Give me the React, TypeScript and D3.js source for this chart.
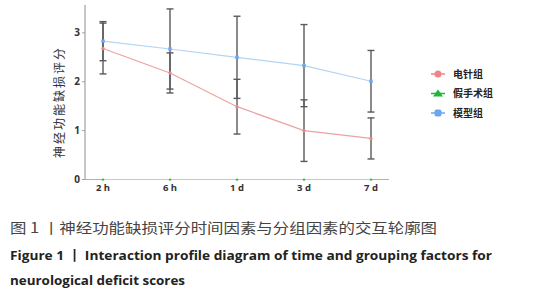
import React from "react";
import * as d3 from "d3";

const categories = ["2 h", "6 h", "1 d", "3 d", "7 d"];
const acupunctureMean = [2.68, 2.18, 1.49, 1.0, 0.84];
const acupunctureSd = [0.52, 0.41, 0.56, 0.63, 0.42];
const shamMean = [0, 0, 0, 0, 0];
const shamSd = [0, 0, 0, 0, 0];
const modelMean = [2.83, 2.67, 2.5, 2.33, 2.01];
const modelSd = [0.4, 0.82, 0.84, 0.84, 0.63];
const yTicks = [0, 1, 2, 3];
const legendLabels = ["电针组", "假手术组", "模型组"];

const seriesList = [
  { name: legendLabels[0], mean: acupunctureMean, sd: acupunctureSd, line: "#eba3a3", marker: "#f08585", shape: "circle" },
  { name: legendLabels[1], mean: shamMean, sd: shamSd, line: "#9ee6a8", marker: "#22b43c", shape: "triangle" },
  { name: legendLabels[2], mean: modelMean, sd: modelSd, line: "#b3d4f2", marker: "#6ea6ee", shape: "square" },
];

export default function App() {
  const W = 544, H = 300;
  const x = d3.scalePoint<string>().domain(categories).range([103, 371]);
  const y = d3.scaleLinear().domain([0, 3.57]).range([179.5, 5]);
  const axisX0 = 85, axisX1 = 389;
  const cjk = "'Noto Sans CJK SC', 'Noto Sans', sans-serif";
  const lat = "'Open Sans', 'Noto Sans', sans-serif";

  return (
    <svg width={W} height={H} style={{ position: "absolute", left: 0, top: 0, background: "#fff" }}>
      {/* axes */}
      <line x1={axisX0} x2={axisX0} y1={y(3.57)} y2={y(0)} stroke="#a0a0a0" strokeWidth={1.2} />
      <line x1={axisX0} x2={axisX1} y1={y(0)} y2={y(0)} stroke="#b0b0b0" strokeWidth={1.2} />
      {yTicks.map((t) => (
        <g key={t}>
          <line x1={axisX0 - 3} x2={axisX0} y1={y(t)} y2={y(t)} stroke="#a0a0a0" />
          <text x={80} y={y(t)} dy="0.35em" textAnchor="end" fontSize={10} fontWeight={700} fill="#333" fontFamily={lat}>{t}</text>
        </g>
      ))}
      {categories.map((c) => (
        <text key={c} x={x(c)} y={191} textAnchor="middle" fontSize={9.5} fontWeight={700} fill="#333" fontFamily={lat}>{c}</text>
      ))}
      <text transform={`translate(60,103) rotate(-90)`} textAnchor="middle" dy="0.35em" fontSize={12} fill="#333" fontFamily={cjk} textLength={110} lengthAdjust="spacing">神经功能缺损评分</text>

      {/* lines */}
      {seriesList.map((s) => {
        const line = d3.line<number>().x((_, i) => x(categories[i])!).y((v) => y(v));
        return <path key={s.name} d={line(s.mean) || ""} fill="none" stroke={s.line} strokeWidth={1.2} />;
      })}
      {/* error bars */}
      {seriesList.map((s) =>
        s.mean.map((m, i) => {
          if (s.sd[i] === 0) return null;
          const cx = x(categories[i])!;
          const yt = y(m + s.sd[i]);
          const yb = y(m - s.sd[i]);
          return (
            <g key={s.name + i} stroke="#5a5a5a" strokeWidth={1.4}>
              <line x1={cx} x2={cx} y1={yt} y2={yb} />
              <line x1={cx - 3.5} x2={cx + 3.5} y1={yt} y2={yt} />
              <line x1={cx - 3.5} x2={cx + 3.5} y1={yb} y2={yb} />
            </g>
          );
        })
      )}
      {/* markers */}
      {seriesList.map((s) =>
        s.mean.map((m, i) => {
          const cx = x(categories[i])!;
          const cy = y(m);
          if (s.shape === "triangle") return <path key={s.name + i} d={`M${cx - 1.5},${cy + 1} L${cx + 1.5},${cy + 1} L${cx},${cy - 1.5} Z`} fill={s.marker} />;
          if (s.shape === "square") return <rect key={s.name + i} x={cx - 1.7} y={cy - 1.7} width={3.4} height={3.4} fill={s.marker} />;
          return <circle key={s.name + i} cx={cx} cy={cy} r={1.7} fill={s.marker} />;
        })
      )}

      {/* legend */}
      {seriesList.map((s, i) => {
        const ly = 74 + i * 19.5;
        return (
          <g key={s.name}>
            <line x1={431} x2={445} y1={ly} y2={ly} stroke={s.marker} strokeWidth={1.5} />
            {s.shape === "triangle" ? (
              <path d={`M${438 - 5},${ly + 3} L${438 + 5},${ly + 3} L${438},${ly - 4} Z`} fill={s.marker} />
            ) : s.shape === "square" ? (
              <rect x={438 - 3.5} y={ly - 3.5} width={7} height={7} rx={2} fill={s.marker} />
            ) : (
              <circle cx={438} cy={ly} r={3.5} fill={s.marker} />
            )}
            <text x={453} y={ly} dy="0.35em" fontSize={10} fontWeight={700} fill="#222" fontFamily={cjk}>{s.name}</text>
          </g>
        );
      })}

      {/* caption */}
      <text x={10} y={233} fontSize={14} fill="#444" fontFamily={cjk} textLength={427} lengthAdjust="spacingAndGlyphs">图 1 丨神经功能缺损评分时间因素与分组因素的交互轮廓图</text>
      <text x={10} y={260} fontSize={13} fontWeight={700} fill="#222" fontFamily={lat} textLength={482} lengthAdjust="spacingAndGlyphs">Figure 1 丨 Interaction profile diagram of time and grouping factors for</text>
      <text x={10} y={285} fontSize={13} fontWeight={700} fill="#222" fontFamily={lat} textLength={175} lengthAdjust="spacingAndGlyphs">neurological deficit scores</text>
    </svg>
  );
}
